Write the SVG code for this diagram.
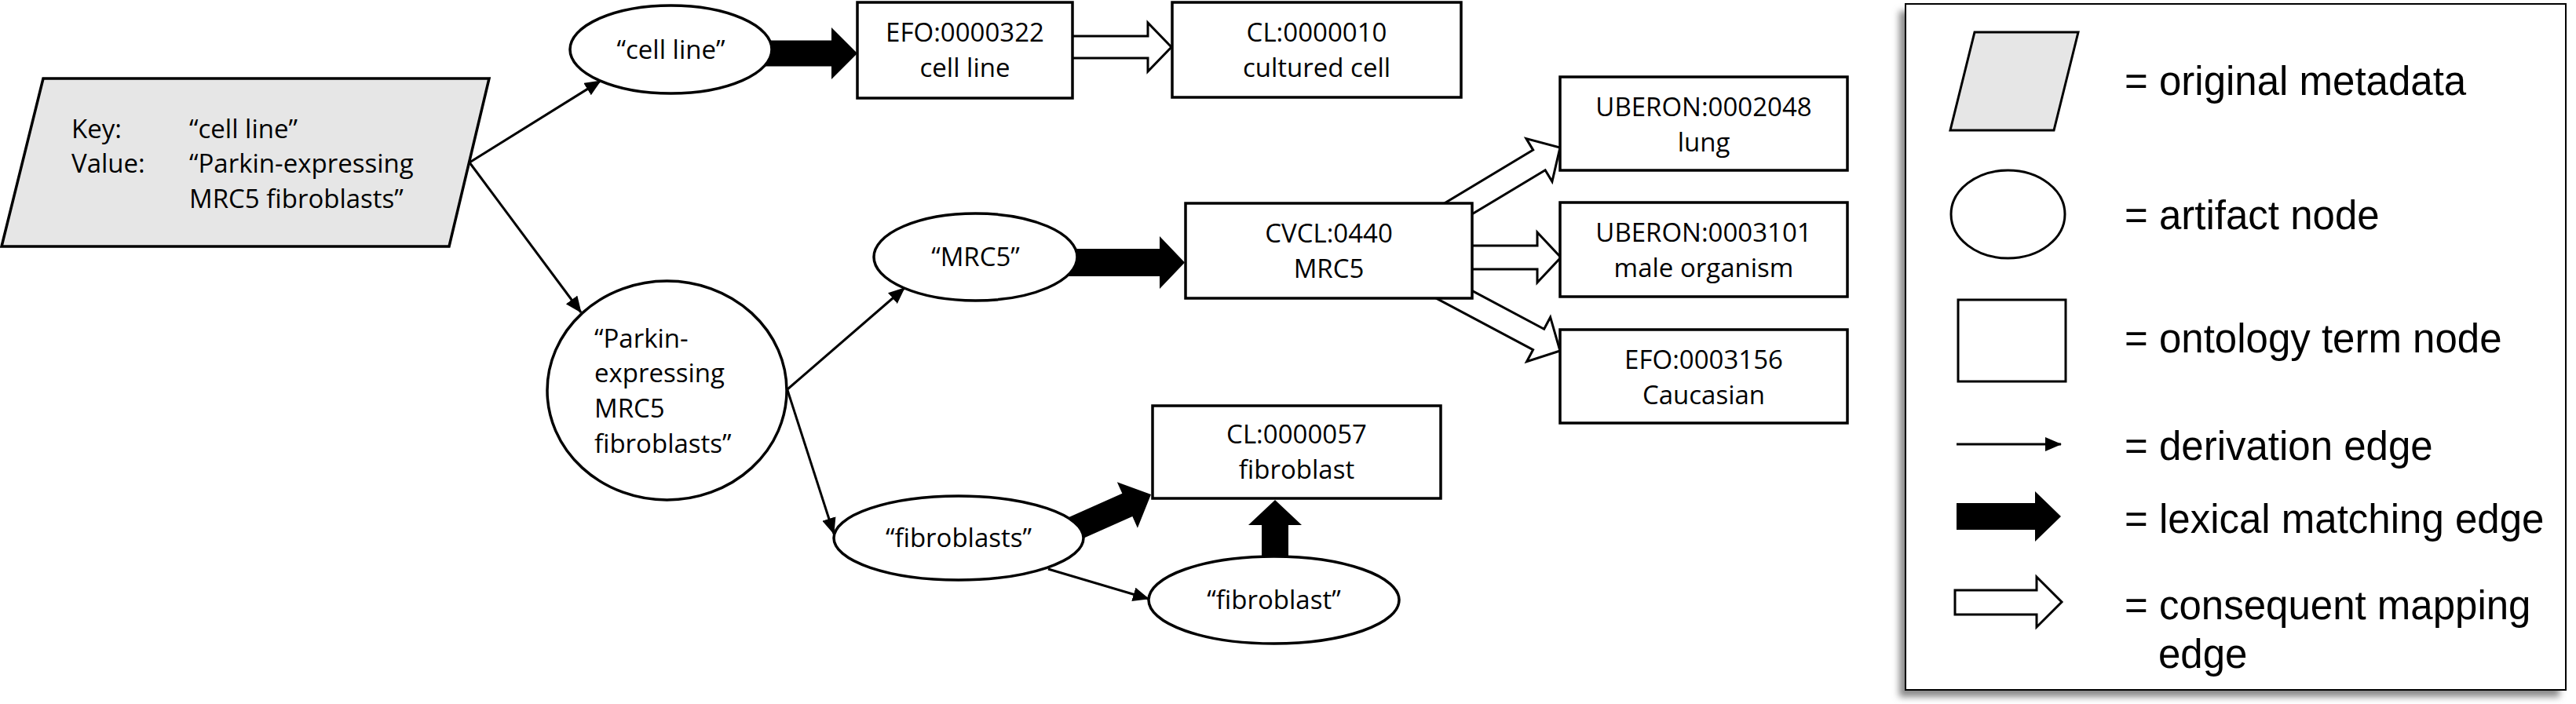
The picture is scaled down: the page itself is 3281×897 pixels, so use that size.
<svg xmlns="http://www.w3.org/2000/svg" width="3281" height="897" viewBox="0 0 3281 897">
<style>
.t{font-family:"Open Sans","Noto Sans","Liberation Sans",sans-serif;font-size:33px;fill:#000}
.c{text-anchor:middle}
.lg{font-family:"Liberation Sans",Arial,sans-serif;font-size:51px;fill:#000}
.n{fill:#fff;stroke:#000;stroke-width:3.5}
.meta{fill:#e6e6e6;stroke:#000;stroke-width:3.5}
.der{fill:none;stroke:#000;stroke-width:3;marker-end:url(#ah)}
.lex{fill:#000;stroke:none}
.cons{fill:#fff;stroke:#000;stroke-width:3;stroke-linejoin:miter}
</style>
<defs>
<marker id="ah" markerUnits="userSpaceOnUse" markerWidth="21" markerHeight="18" refX="20" refY="9" orient="auto">
<path d="M0,0 L21,9 L0,18 z" fill="#000"/>
</marker>
<filter id="sh" x="-5%" y="-5%" width="110%" height="110%">
<feGaussianBlur stdDeviation="4"/>
</filter>
</defs>
<rect width="3281" height="897" fill="#fff"/>

<g id="connectors">
<line class="der" x1="598" y1="207" x2="765" y2="103"/>
<line class="der" x1="598" y1="207" x2="740" y2="398"/>
<line class="der" x1="1003" y1="496" x2="1152" y2="367"/>
<line class="der" x1="1003" y1="497" x2="1062" y2="680"/>
<line class="der" x1="1335" y1="725" x2="1463" y2="763"/>
<polygon class="lex" points="960,51.5 1059,51.5 1059,35 1092,68 1059,101 1059,84.5 960,84.5"/>
<polygon class="lex" points="1350,317 1477,317 1477,301 1509,334.5 1477,368 1477,352 1350,352"/>
<polygon class="lex" transform="translate(1466,630) rotate(-24)" points="-135,-16 -33,-16 -33,-32 0,0 -33,32 -33,16 -135,16"/>
<polygon class="lex" points="1607,730 1607,669 1590,669 1624,637 1658,669 1641,669 1641,730"/>
<polygon class="cons" points="1340,46 1462,46 1462,29 1492,60 1462,91 1462,74 1340,74"/>
<polygon class="cons" transform="translate(1987,188) rotate(-31)" points="-180,-15 -31,-15 -31,-32 0,0 -31,32 -31,15 -180,15"/>
<polygon class="cons" points="1850,313 1958,313 1958,296 1988,328 1958,360 1958,343 1850,343"/>
<polygon class="cons" transform="translate(1987,447) rotate(28)" points="-178,-15 -31,-15 -31,-32 0,0 -31,32 -31,15 -178,15"/>
</g>

<g id="meta">
<polygon class="meta" points="55,100 623,100 572,314 2,314"/>
<text class="t" x="91" y="176">Key:</text>
<text class="t" x="241" y="176">“cell line”</text>
<text class="t" x="91" y="220">Value:</text>
<text class="t" x="241" y="220">“Parkin-expressing</text>
<text class="t" x="241" y="265">MRC5 fibroblasts”</text>
</g>

<g id="a-cellline">
<ellipse class="n" cx="854.5" cy="63" rx="128.5" ry="56"/>
<text class="t c" x="854.5" y="75">“cell line”</text>
</g>
<g id="a-parkin">
<ellipse class="n" cx="849.5" cy="497.5" rx="152.5" ry="139.5"/>
<text class="t" x="757" y="443">“Parkin-</text>
<text class="t" x="757" y="487">expressing</text>
<text class="t" x="757" y="532">MRC5</text>
<text class="t" x="757" y="577">fibroblasts”</text>
</g>
<g id="a-mrc5">
<ellipse class="n" cx="1242.5" cy="327.5" rx="129.5" ry="55.5"/>
<text class="t c" x="1242.5" y="339">“MRC5”</text>
</g>
<g id="a-fibroblasts">
<ellipse class="n" cx="1221" cy="685.5" rx="159" ry="53.5"/>
<text class="t c" x="1221" y="697">“fibroblasts”</text>
</g>
<g id="a-fibroblast">
<ellipse class="n" cx="1622.5" cy="764.5" rx="159.5" ry="55.5"/>
<text class="t c" x="1622.5" y="776">“fibroblast”</text>
</g>

<g id="o-efo322">
<rect class="n" x="1092" y="3" width="274" height="122"/>
<text class="t c" x="1229" y="53">EFO:0000322</text>
<text class="t c" x="1229" y="98">cell line</text>
</g>
<g id="o-cl10">
<rect class="n" x="1493" y="3" width="368" height="121"/>
<text class="t c" x="1677" y="53">CL:0000010</text>
<text class="t c" x="1677" y="98">cultured cell</text>
</g>
<g id="o-cvcl">
<rect class="n" x="1510" y="259" width="365" height="121"/>
<text class="t c" x="1692.5" y="309">CVCL:0440</text>
<text class="t c" x="1692.5" y="354">MRC5</text>
</g>
<g id="o-lung">
<rect class="n" x="1987" y="98" width="366" height="119"/>
<text class="t c" x="2170" y="148">UBERON:0002048</text>
<text class="t c" x="2170" y="193">lung</text>
</g>
<g id="o-male">
<rect class="n" x="1987" y="258" width="366" height="120"/>
<text class="t c" x="2170" y="308">UBERON:0003101</text>
<text class="t c" x="2170" y="353">male organism</text>
</g>
<g id="o-caucasian">
<rect class="n" x="1987" y="420" width="366" height="119"/>
<text class="t c" x="2170" y="470">EFO:0003156</text>
<text class="t c" x="2170" y="515">Caucasian</text>
</g>
<g id="o-cl57">
<rect class="n" x="1468" y="517" width="367" height="118"/>
<text class="t c" x="1651.5" y="565">CL:0000057</text>
<text class="t c" x="1651.5" y="610">fibroblast</text>
</g>

<g id="legend">
<rect x="2419" y="14" width="841" height="874" fill="#8a8a8a" filter="url(#sh)"/>
<rect x="2427" y="5" width="841" height="874" fill="#fff" stroke="#000" stroke-width="2"/>
<polygon points="2515,41 2647,41 2616,166 2484,166" fill="#e6e6e6" stroke="#000" stroke-width="3"/>
<text class="lg" x="2706" y="121">= original metadata</text>
<ellipse cx="2557.5" cy="273" rx="72.5" ry="56" fill="#fff" stroke="#000" stroke-width="3"/>
<text class="lg" x="2706" y="292">= artifact node</text>
<rect x="2494" y="382" width="137" height="104" fill="#fff" stroke="#000" stroke-width="3"/>
<text class="lg" x="2706" y="449">= ontology term node</text>
<line class="der" x1="2492" y1="566" x2="2625" y2="566"/>
<text class="lg" x="2706" y="586">= derivation edge</text>
<polygon class="lex" points="2492,641 2592,641 2592,626 2625,658 2592,690 2592,675 2492,675"/>
<text class="lg" x="2706" y="679">= lexical matching edge</text>
<polygon class="cons" points="2490,752 2594,752 2594,735 2626,767 2594,799 2594,783 2490,783"/>
<text class="lg" x="2706" y="789">= consequent mapping</text>
<text class="lg" x="2749" y="851">edge</text>
</g>
</svg>
